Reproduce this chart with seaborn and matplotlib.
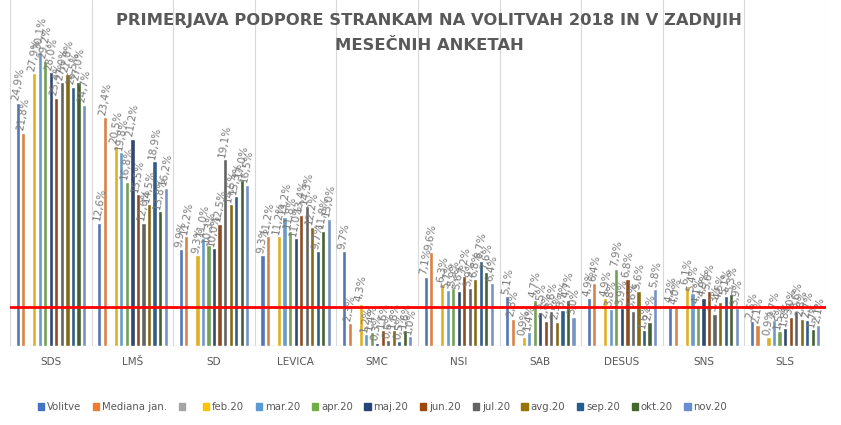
import matplotlib.pyplot as plt
import matplotlib.patches as mpatches
import seaborn as sns
import pandas as pd
import numpy as np

sns.set_style("white")
plt.rcParams['font.family'] = ['DejaVu Sans']

# Data
stranke = ["SDS", "LMŠ", "SD", "LEVICA", "SMC", "NSI", "SAB", "DESUS", "SNS", "SLS"]
serije = ["Volitve", "Mediana jan.", " ", "feb.20", "mar.20", "apr.20", "maj.20",
          "jun.20", "jul.20", "avg.20", "sep.20", "okt.20", "nov.20"]

volitve = [24.9, 12.6, 9.9, 9.3, 9.7, 7.1, 5.1, 4.9, 4.2, 2.6]
mediana_jan = [21.8, 23.4, 11.2, 11.2, 2.3, 9.6, 2.8, 6.4, 4.0, 2.1]
prazno = [np.nan] * 10
feb20 = [27.9, 20.5, 9.3, 11.2, 4.3, 6.3, 0.9, 4.9, 6.1, 0.9]
mar20 = [30.1, 19.8, 11.0, 13.2, 1.2, 5.7, 1.4, 3.8, 5.4, 2.7]
apr20 = [29.2, 16.8, 10.3, 11.8, 1.4, 5.9, 4.7, 7.9, 4.1, 1.5]
maj20 = [28.0, 21.2, 10.0, 11.0, 0.3, 5.6, 3.5, 3.9, 4.9, 1.8]
jun20 = [25.4, 15.5, 12.5, 13.4, 1.6, 7.2, 2.6, 6.8, 5.6, 3.0]
jul20 = [27.0, 12.6, 19.1, 14.3, 0.6, 5.9, 3.6, 3.6, 3.3, 3.6]
avg20 = [27.8, 14.5, 14.5, 12.2, 1.6, 6.8, 2.5, 5.6, 4.5, 2.8]
sep20 = [26.5, 18.9, 15.3, 9.7, 0.5, 8.7, 3.7, 1.6, 5.1, 2.7]
okt20 = [27.0, 13.8, 17.0, 11.8, 1.6, 7.6, 4.7, 2.4, 5.3, 1.7]
nov20 = [24.7, 16.2, 16.5, 13.0, 1.0, 6.4, 3.0, 5.8, 3.9, 2.1]

vrednosti = [volitve, mediana_jan, prazno, feb20, mar20, apr20, maj20,
             jun20, jul20, avg20, sep20, okt20, nov20]

barve = ["#4472C4", "#ED7D31", "#A5A5A5", "#FFC000", "#5B9BD5", "#70AD47", "#264478",
         "#9E480E", "#636363", "#997300", "#255E91", "#43682B", "#698ED0"]

rows = []
for s, vals in zip(serije, vrednosti):
    for p, v in zip(stranke, vals):
        rows.append({"stranka": p, "serija": s, "odstotek": v})
df = pd.DataFrame(rows)

fig = plt.figure(figsize=(8.41, 4.25), dpi=100)
ax = fig.add_axes([0.012, 0.186, 0.97, 0.814])

sns.barplot(data=df, x="stranka", y="odstotek", hue="serija", hue_order=serije,
            order=stranke, palette=barve, width=0.88, gap=0.25, legend=False,
            errorbar=None, ax=ax)

# data labels
for cont, s in zip(ax.containers, serije):
    if s.strip() == "":
        continue
    labs = [f"{v:.1f}%".replace(".", ",") if not np.isnan(v) else "" for v in cont.datavalues]
    ax.bar_label(cont, labels=labs, rotation=80, fontsize=7.5, color="#7a7a7a", padding=1)

# threshold line
ax.axhline(4.0, color="#FF0000", lw=2, zorder=5)

ax.set_ylim(0, 35.4)
ax.set_xlim(-0.5, len(stranke) - 0.5)
for x in np.arange(-0.5, len(stranke), 1.0):
    ax.axvline(x, color="#D9D9D9", lw=0.8, zorder=0)
ax.axhline(0, color="#D9D9D9", lw=1, zorder=0)

for sp in ax.spines.values():
    sp.set_visible(False)
ax.set_yticks([])
ax.set_xlabel("")
ax.set_ylabel("")
ax.tick_params(axis="x", length=0, pad=8, labelsize=7.5, labelcolor="#595959")

fig.text(0.51, 0.952, "PRIMERJAVA PODPORE STRANKAM NA VOLITVAH 2018 IN V ZADNJIH",
         ha="center", va="center", fontsize=11.8, fontweight="bold", color="#595959")
fig.text(0.51, 0.892, "MESEČNIH ANKETAH",
         ha="center", va="center", fontsize=11.8, fontweight="bold", color="#595959")

handles = [mpatches.Patch(color=c, label=s) for s, c in zip(serije, barve)]
fig.legend(handles=handles, loc="center", bbox_to_anchor=(0.455, 0.042), ncol=13,
           frameon=False, fontsize=7.3, handlelength=0.6, handleheight=0.6,
           handletextpad=0.3, columnspacing=1.15, labelcolor="#595959")

plt.savefig("out.png", dpi=100)
